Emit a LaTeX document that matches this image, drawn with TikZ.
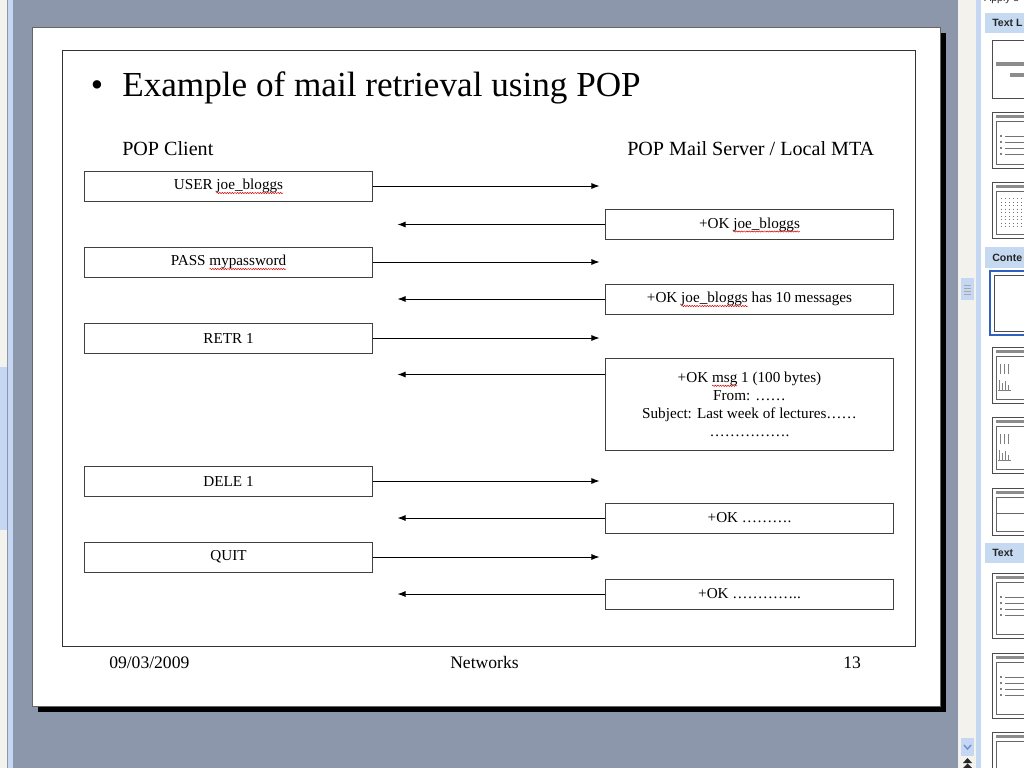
\documentclass[tikz,border=0pt]{standalone}
\usepackage{fontspec}
\setmainfont{Liberation Serif}
\setsansfont{Liberation Sans}
\usetikzlibrary{positioning,calc,arrows.meta,decorations.pathmorphing}

\definecolor{appgray}{RGB}{141,151,172}
\definecolor{track}{RGB}{244,242,237}
\definecolor{paleblue}{RGB}{198,215,243}
\definecolor{headblue}{RGB}{197,217,241}
\definecolor{selblue}{RGB}{48,96,192}

% red spell-check squiggle under a word
\newcommand\spellword[1]{\tikz[baseline=(sw.base)]{\node[shape=rectangle, draw=none, fill=none, inner sep=0pt, outer sep=0pt,
    minimum width=0pt, minimum height=0pt, anchor=base] (sw) {#1};
  \draw[overlay, red!85!black, line width=0.35pt, decorate, decoration={snake, amplitude=0.45pt, segment length=1.8pt}]
    ([yshift=-2.4pt]sw.base west) -- ([yshift=-2.4pt]sw.base east);}}

\begin{document}
\begin{tikzpicture}[x=0.025cm,y=-0.025cm,
    cmdbox/.style={rectangle, draw=black!75, line width=0.7pt, fill=white, inner sep=0pt,
      minimum width=7.175cm, minimum height=0.75cm, align=center, font=\fontsize{10.8}{12.8}\selectfont},
    msg/.style={-{Latex[length=2mm,width=1.5mm]}, line width=0.65pt},
    thumb/.style={draw=black!70, line width=0.7pt, fill=white},
    bar/.style={fill=black!45, draw=none},
    panelhead/.style={anchor=west, inner sep=0pt, font=\sffamily\bfseries\fontsize{7.5}{9}\selectfont, text=black!85}]
        \useasboundingbox (0,0) rectangle (1024,768);
        \clip (0,0) rectangle (1024,768);
        % Window background
        \fill[appgray] (0,0) rectangle (960,768);
        \fill[track] (0,0) rectangle (7,768);
        \fill[paleblue] (0,367) rectangle (7,530);
        \fill[paleblue] (8,0) rectangle (13,768);
        % Slide with shadow
        \fill[black] (38,33) rectangle (946,712);
        \fill[white] (32,27) rectangle (940,706);
        \draw[black!60, line width=0.5pt] (32,27) rectangle (940,706);
        \draw[black!80, line width=0.7pt] (62,50) rectangle (915,646);
        % Title
        \node[anchor=base west, font=\fontsize{25}{30}\selectfont] (bullet) at (86,97) {\textbullet};
        \node[anchor=base west, inner sep=0pt, font=\fontsize{25}{30}\selectfont] (title) at (122,97) {Example of mail retrieval using POP};
        \node[anchor=base west, inner sep=0pt, font=\fontsize{14.3}{17}\selectfont] (client) at (122,155) {POP Client};
        \node[anchor=base west, inner sep=0pt, font=\fontsize{14.3}{17}\selectfont] (server) at (627,155) {POP Mail Server / Local MTA};
        % Client commands
        \node[cmdbox] (user) at (228.5,186) {USER \spellword{joe\_bloggs}};
        \node[cmdbox] (pass) at (228.5,262) {PASS \spellword{mypassword}};
        \node[cmdbox] (retr) at (228.5,338) {RETR 1};
        \node[cmdbox] (dele) at (228.5,481) {DELE 1};
        \node[cmdbox] (quit) at (228.5,557) {QUIT};
        % Server replies
        \node[cmdbox] (okuser) at (749.5,224.5) {+OK \spellword{joe\_bloggs}};
        \node[cmdbox] (okpass) at (749.5,299) {+OK \spellword{joe\_bloggs} has 10 messages};
        \node[cmdbox, minimum height=2.275cm, font=\fontsize{10.8}{12.9}\selectfont] (okretr) at (749.5,404.5)
          {+OK \spellword{msg} 1 (100 bytes)\\From: ……\\Subject: Last week of lectures……\\…………….};
        \node[cmdbox] (okdele) at (749.5,518) {+OK ……….};
        \node[cmdbox] (okquit) at (749.5,594) {+OK …………..};
        \coordinate (retrin) at ($(okretr.north west)+(0,16)$);
        % Arrows
        \foreach \c/\r in {user/okuser, pass/okpass, retr/okretr, dele/okdele, quit/okquit}
          \draw[msg, shorten >=0.15cm] (\c.east) -- (\c.east -| \r.west);
        \foreach \r/\c in {okuser/user, okpass/pass, okdele/dele, okquit/quit}
          \draw[msg, shorten >=0.625cm] (\r.west) -- (\r.west -| \c.east);
        \draw[msg, shorten >=0.625cm] (retrin) -- (retrin -| retr.east);
        % Footer
        \node[anchor=base west, inner sep=0pt, font=\fontsize{12.5}{15}\selectfont] (date) at (109,668) {09/03/2009};
        \node[anchor=base west, inner sep=0pt, font=\fontsize{12.5}{15}\selectfont] (course) at (450,668) {Networks};
        \node[anchor=base west, inner sep=0pt, font=\fontsize{12.5}{15}\selectfont] (page) at (843,668) {13};
        % Task pane
        \fill[track] (958,0) rectangle (976,768);
        \fill[paleblue] (976,0) rectangle (981,768);
        \fill[white] (981,0) rectangle (1024,768);
        \fill[paleblue] (961,278) rectangle (974,300);
        \foreach \y in {285,288,291,294} \draw[black!35, line width=0.4pt] (964,\y) -- (971,\y);
        \fill[paleblue] (961,738) rectangle (974,756);
        \draw[selblue!70, line width=1pt] (964,745) -- (967.5,749) -- (971,745);
        \fill[black!85] (963,763) -- (967.5,758) -- (972,763) -- cycle (963,768) -- (967.5,763.5) -- (972,768) -- cycle;
        \node[panelhead, font=\sffamily\fontsize{7.5}{9}\selectfont] (apply) at (984,-1) {Apply s};
        \fill[headblue] (985,13) rectangle (1024,33);
        \node[panelhead] (texthead) at (992,23) {Text L};
        \fill[headblue] (985,247) rectangle (1024,268);
        \node[panelhead] (contenthead) at (992,257.5) {Conte};
        \fill[headblue] (985,543) rectangle (1024,563);
        \node[panelhead] (bothhead) at (992,553) {Text};
        % Layout thumbnails
        \draw[thumb] (992,40) rectangle (1040,98);
        \fill[bar] (996,62) rectangle (1030,66);
        \fill[bar] (1010,73) rectangle (1030,77);
        \foreach \t/\b in {112/168, 182/238, 347/403, 417/473, 488/535, 573/638, 653/718, 732/790} {
          \draw[thumb] (992,\t) rectangle (1040,\b);
          \fill[bar] (996,\t+3) rectangle (1030,\t+6);
          \draw[black!60, line width=0.5pt] (996,\t+9) rectangle (1040,\b-4);
        }
        \foreach \t in {112, 573, 653} \foreach \i in {0,1,2,3} {
          \fill[black] (1001,\t+24+6*\i) circle (0.9);
          \draw[black!55, line width=0.4pt] (1005,\t+24+6*\i) -- (1024,\t+24+6*\i);
        }
        \foreach \x in {1001,1005,1009,1013,1017,1021}
          \draw[black!55, line width=0.5pt, dotted] (\x,198) -- (\x,228);
        \foreach \t in {347, 417} {
          \draw[black!50, line width=0.4pt] (999,\t+17) grid[step=4] (1011,\t+27);
          \draw[black!50, line width=0.4pt] (999,\t+43) -- (999,\t+33) (1002,\t+43) -- (1002,\t+36) (1005,\t+43) -- (1005,\t+34) (1008,\t+43) -- (1008,\t+38) (998,\t+43) -- (1011,\t+43);
        }
        \draw[black!60, line width=0.5pt] (996,513) -- (1040,513);
        \draw[white, line width=1.8pt] (992,273) rectangle (1040,333);
        \draw[selblue, line width=1.4pt] (990,271) rectangle (1042,335);
        \draw[black!70, line width=0.6pt] (994,275) rectangle (1040,331);
\end{tikzpicture}
\end{document}
